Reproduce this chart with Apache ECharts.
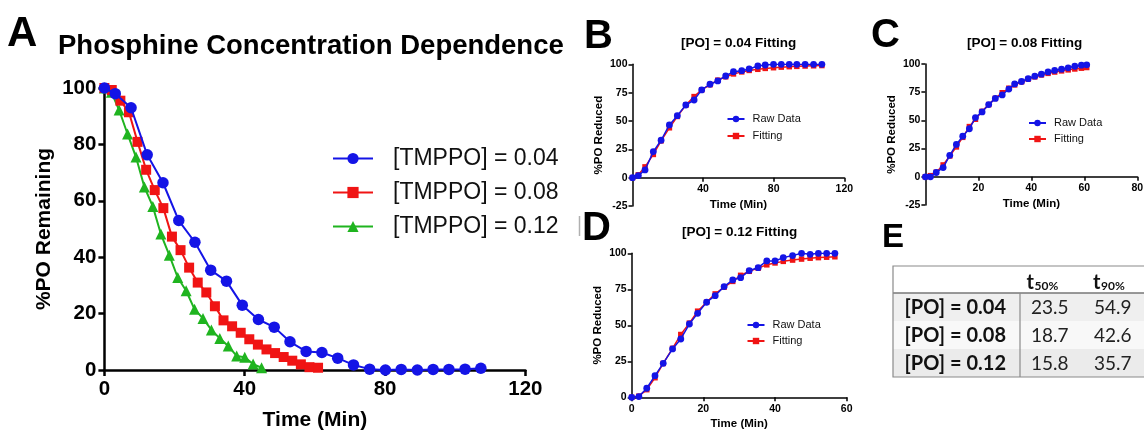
<!DOCTYPE html>
<html>
<head>
<meta charset="utf-8">
<script src="https://cdn.jsdelivr.net/npm/echarts@6/dist/echarts.min.js"></script>
<style>
  html, body { margin: 0; padding: 0; background: #fff; }
  #chart { width: 1144px; height: 438px; }
</style>
</head>
<body>
<div id="chart"></div>
<script>
// ---- Panel A: %PO remaining vs time for three TMPPO loadings ----
const timeA004 = [0, 3.1, 7.6, 12.2, 16.7, 21.2, 25.8, 30.3, 34.8, 39.3, 43.9, 48.4, 52.9, 57.5, 62.0, 66.5, 71.0, 75.6, 80.1, 84.6, 89.2, 93.7, 98.2, 102.8, 107.3];
const remainA004 = [100, 98, 93, 76.3, 66.4, 53, 45.3, 35.4, 31.5, 23.0, 17.9, 15.2, 10.0, 6.6, 6.2, 4.2, 1.8, 0.3, 0, 0.2, 0, 0.2, 0.2, 0.3, 0.6];

const timeA008 = [0, 2.1, 4.55, 7.0, 9.45, 11.9, 14.35, 16.8, 19.25, 21.7, 24.15, 26.6, 29.05, 31.5, 33.95, 36.4, 38.85, 41.3, 43.75, 46.2, 48.65, 51.1, 53.55, 56.0, 58.45, 60.9];
const remainA008 = [100, 99.3, 95.5, 91.4, 80.9, 71.0, 63.8, 57.4, 47.3, 42.5, 36.3, 31.0, 27.5, 22.6, 17.6, 15.5, 13.2, 10.9, 9.0, 7.3, 6.0, 4.6, 3.3, 2.0, 1.0, 0.8];

const timeA012 = [0, 2.0, 4.2, 6.6, 9.0, 11.4, 13.8, 16.1, 18.5, 20.9, 23.3, 25.7, 28.1, 30.5, 32.9, 35.3, 37.7, 40.0, 42.4, 44.8];
const remainA012 = [100, 98.5, 92.2, 83.7, 75.5, 64.9, 58.0, 48.2, 40.7, 32.8, 28.1, 21.5, 18.3, 14.2, 11.2, 8.5, 5.0, 4.5, 2.1, 0.8];

const legendA = ['[TMPPO] = 0.04', '[TMPPO] = 0.08', '[TMPPO] = 0.12'];

// ---- Panel B: [PO] = 0.04, raw vs fitted %PO reduced ----
const timeB = [0, 3.3, 7.1, 11.8, 16.2, 20.9, 25.4, 30.2, 34.9, 39.2, 43.9, 48.3, 52.8, 57.2, 61.9, 66.1, 71.0, 75.2, 79.9, 84.3, 88.8, 93.1, 97.8, 102.6, 107.3];
const rawB = [0, 1.8, 6.8, 23.0, 33.0, 46.5, 54.7, 64.1, 68.5, 77.4, 82.4, 85.3, 89.7, 93.5, 94.4, 95.9, 98.5, 99.4, 100, 100, 100, 100, 100, 100, 100];
const fitB = [0, 2.5, 9.5, 20.5, 32.5, 44.0, 54.0, 64.0, 71.5, 77.5, 82.0, 86.0, 89.0, 91.5, 93.3, 94.6, 95.6, 96.4, 97.0, 97.5, 97.9, 98.2, 98.5, 98.7, 98.9];

// ---- Panel C: [PO] = 0.08 ----
const timeC = [0, 1.9, 4.1, 6.7, 9.2, 11.7, 14.1, 16.6, 18.9, 21.4, 23.9, 26.4, 29.0, 31.5, 33.7, 36.3, 38.8, 41.3, 43.8, 46.3, 48.8, 51.4, 53.9, 56.4, 58.9, 60.9];
const rawC = [0, 0, 3.8, 8.2, 19.0, 28.7, 36.0, 42.6, 52.5, 57.5, 64.0, 69.5, 72.6, 77.8, 82.3, 84.5, 87.0, 89.2, 91.0, 93.0, 94.3, 95.4, 96.6, 98.0, 99.0, 99.3];
const fitC = [0, 1.0, 4.0, 10.5, 18.5, 26.5, 35.0, 44.5, 51.0, 58.0, 64.0, 69.5, 74.5, 78.5, 81.5, 84.2, 86.6, 88.6, 90.3, 91.7, 92.9, 93.9, 94.8, 95.6, 96.3, 96.9];

// ---- Panel D: [PO] = 0.12 ----
const timeD = [0, 2.0, 4.2, 6.5, 8.8, 11.4, 13.7, 16.1, 18.4, 20.9, 23.3, 25.8, 28.2, 30.4, 32.8, 35.3, 37.7, 40.0, 42.3, 44.9, 47.4, 49.8, 52.1, 54.4, 56.7];
const rawD = [0, 0.5, 6.3, 15.0, 23.6, 33.6, 40.5, 50.9, 58.3, 66.0, 70.6, 76.9, 81.5, 83.1, 88.0, 90.0, 94.7, 94.7, 97.0, 98.4, 100, 99.3, 100, 100, 100];
const fitD = [0, 0.8, 5.3, 13.6, 23.5, 34.0, 43.6, 51.5, 59.8, 66.0, 71.8, 76.5, 80.5, 84.7, 87.5, 89.7, 92.0, 93.3, 94.4, 95.3, 96.0, 96.6, 97.0, 97.3, 97.6];

// ---- Panel E: half-life table ----
const tableRowLabels = ['[PO] = 0.04', '[PO] = 0.08', '[PO] = 0.12'];
const t50 = [23.5, 18.7, 15.8];
const t90 = [54.9, 42.6, 35.7];

const FONT = '"Liberation Sans", Arial, Helvetica, sans-serif';
const TFONT = 'Lato, "Open Sans", sans-serif';
const BLUE = '#1414e6';
const RED = '#f01414';
const GREEN = '#1fb41f';

const zip = (xs, ys) => xs.map((x, i) => [x, ys[i]]);

// grid boxes (pixel layout of each plotting area)
const gridA = { left: 104.4, top: 88, width: 421, height: 282 };
const gridB = { left: 632.5, top: 64.3, width: 211.8, height: 141.7 };
const gridC = { left: 925.4, top: 64, width: 211.9, height: 141 };
const gridD = { left: 631.7, top: 253.3, width: 215, height: 144 };

// x axis of B/C sits on the y = 0 line (y range -25..100)
const zeroShift = g => -g.height * 25 / 125;

function xAxisOf(grid, max, interval, big, hideMin, offset) {
  const lw = big ? 2.5 : 1.5;
  return {
    gridIndex: grid, type: 'value', min: 0, max: max, interval: interval,
    position: 'bottom', offset: offset || 0,
    axisLine: { show: true, onZero: false, lineStyle: { color: '#000', width: lw } },
    axisTick: { show: true, length: big ? 6 : 4, lineStyle: { color: '#000', width: lw } },
    axisLabel: { color: '#000', fontFamily: FONT, fontWeight: 'bold', fontSize: big ? 20.5 : 10.5,
                 margin: big ? 9 : 6, showMinLabel: !hideMin },
    splitLine: { show: false },
    name: 'Time (Min)', nameLocation: 'middle', nameGap: big ? 40 : 21,
    nameTextStyle: { color: '#000', fontFamily: FONT, fontWeight: 'bold', fontSize: big ? 21 : 11.5 }
  };
}
function yAxisOf(grid, min, max, interval, big, name) {
  const lw = big ? 2.5 : 1.5;
  return {
    gridIndex: grid, type: 'value', min: min, max: max, interval: interval,
    axisLine: { show: true, onZero: false, lineStyle: { color: '#000', width: lw } },
    axisTick: { show: true, length: big ? 6 : 4, lineStyle: { color: '#000', width: lw } },
    axisLabel: { color: '#000', fontFamily: FONT, fontWeight: 'bold', fontSize: big ? 20.5 : 10.5, margin: big ? 8 : 5 },
    splitLine: { show: false },
    name: name, nameLocation: 'middle', nameGap: big ? 50 : 28,
    nameTextStyle: { color: '#000', fontFamily: FONT, fontWeight: 'bold', fontSize: big ? 21 : 11.5 }
  };
}
function lineSeries(name, grid, data, color, symbol, size, width, z) {
  return {
    type: 'line', name: name, xAxisIndex: grid, yAxisIndex: grid, data: data,
    symbol: symbol, symbolSize: size, showSymbol: true, z: z,
    itemStyle: { color: color, opacity: 1 },
    lineStyle: { color: color, width: width },
    emphasis: { disabled: true }, animation: false
  };
}
function smallLegend(left, top, gap) {
  return {
    left: left, top: top, padding: 0, orient: 'vertical', itemWidth: 17, itemHeight: 8, itemGap: gap,
    data: ['Raw Data', 'Fitting'], selectedMode: false,
    textStyle: { color: '#111', fontFamily: FONT, fontSize: 11, lineHeight: 12, padding: [0, 0, 0, 3] }
  };
}

// table built from graphic rects/lines/texts
function buildTable() {
  const x0 = 893, y0 = 266, w = 260, headH = 27, rowH = 28, colX = 1020;
  const fills = ['#efefef', '#f8f8f8', '#ebebeb'];
  const els = [];
  els.push({ type: 'rect', shape: { x: x0, y: y0, width: w, height: headH + 3 * rowH },
             style: { fill: '#fff' }, z: 1 });
  tableRowLabels.forEach((lab, i) => {
    const yy = y0 + headH + i * rowH;
    els.push({ type: 'rect', shape: { x: x0, y: yy, width: w, height: rowH }, style: { fill: fills[i] }, z: 2 });
    els.push({ type: 'text', x: 1006, y: yy + rowH / 2 + 1, z: 5,
               style: { text: lab, fill: '#111', font: 'bold 20px ' + TFONT, align: 'right', verticalAlign: 'middle' } });
    els.push({ type: 'text', x: 1031, y: yy + rowH / 2 + 1, z: 5,
               style: { text: t50[i].toFixed(1), fill: '#222', font: '19px ' + TFONT, align: 'left', verticalAlign: 'middle' } });
    els.push({ type: 'text', x: 1094, y: yy + rowH / 2 + 1, z: 5,
               style: { text: t90[i].toFixed(1), fill: '#222', font: '19px ' + TFONT, align: 'left', verticalAlign: 'middle' } });
  });
  els.push({ type: 'line', shape: { x1: x0, y1: y0 + headH, x2: x0 + w, y2: y0 + headH },
             style: { stroke: '#777', lineWidth: 1.6 }, z: 4 });
  els.push({ type: 'line', shape: { x1: colX, y1: y0 + headH, x2: colX, y2: y0 + headH + 3 * rowH },
             style: { stroke: '#8a8a8a', lineWidth: 1.2 }, z: 4 });
  els.push({ type: 'rect', shape: { x: x0, y: y0, width: w, height: headH + 3 * rowH },
             style: { fill: 'none', stroke: '#8a8a8a', lineWidth: 1.2 }, z: 4 });
  // column headers: t with a percent subscript
  [['50%', 1026.5], ['90%', 1093]].forEach(([sub, hx]) => {
    els.push({ type: 'text', x: hx, y: y0 + 16.5, z: 5,
               style: { text: 't', fill: '#111', font: 'bold 20px ' + TFONT, align: 'left', verticalAlign: 'middle' } });
    els.push({ type: 'text', x: hx + 8, y: y0 + 20.5, z: 5,
               style: { text: sub, fill: '#111', font: 'bold 12px ' + TFONT, align: 'left', verticalAlign: 'middle' } });
  });
  // thin grey edge mark between panels A and B
  els.push({ type: 'line', shape: { x1: 579.5, y1: 216, x2: 579.5, y2: 236 },
             style: { stroke: '#b0b0b0', lineWidth: 1.5 }, z: 4 });
  return els;
}

const letterStyle = { color: '#000', fontFamily: FONT, fontWeight: 'bold', fontSize: 40 };
const subTitleStyle = { color: '#000', fontFamily: FONT, fontWeight: 'bold', fontSize: 13.5 };

const option = {
  backgroundColor: '#fff',
  animation: false,
  title: [
    { text: 'A', left: 7, top: 13, textStyle: Object.assign({}, letterStyle, { fontSize: 42 }), padding: 0 },
    { text: 'Phosphine Concentration Dependence', left: 58, top: 32, padding: 0,
      textStyle: { color: '#000', fontFamily: FONT, fontWeight: 'bold', fontSize: 27.5 } },
    { text: 'B', left: 584, top: 17, textStyle: letterStyle, padding: 0 },
    { text: '[PO] = 0.04 Fitting', left: 681, top: 36, textStyle: subTitleStyle, padding: 0 },
    { text: 'C', left: 871, top: 16, textStyle: letterStyle, padding: 0 },
    { text: '[PO] = 0.08 Fitting', left: 967, top: 36, textStyle: subTitleStyle, padding: 0 },
    { text: 'D', left: 582, top: 209, textStyle: letterStyle, padding: 0 },
    { text: '[PO] = 0.12 Fitting', left: 682, top: 225, textStyle: subTitleStyle, padding: 0 },
    { text: 'E', left: 882, top: 221, textStyle: Object.assign({}, letterStyle, { fontSize: 33 }), padding: 0 }
  ],
  grid: [gridA, gridB, gridC, gridD].map(g => Object.assign({ outerBoundsMode: 'none' }, g)),
  xAxis: [
    xAxisOf(0, 120, 40, true, false, 0),
    xAxisOf(1, 120, 40, false, true, zeroShift(gridB)),
    xAxisOf(2, 80, 20, false, true, zeroShift(gridC)),
    xAxisOf(3, 60, 20, false, false, 0)
  ],
  yAxis: [
    yAxisOf(0, 0, 100, 20, true, '%PO Remaining'),
    yAxisOf(1, -25, 100, 25, false, '%PO Reduced'),
    yAxisOf(2, -25, 100, 25, false, '%PO Reduced'),
    yAxisOf(3, 0, 100, 25, false, '%PO Reduced')
  ],
  legend: [
    { left: 332, top: 147, padding: 0, orient: 'vertical', itemWidth: 40, itemHeight: 14, itemGap: 11,
      data: legendA, selectedMode: false,
      textStyle: { color: '#111', fontFamily: FONT, fontSize: 23, lineHeight: 23, padding: [0, 0, 0, 15] } },
    smallLegend(726.5, 113, 5),
    smallLegend(1028, 117, 4),
    smallLegend(746.5, 319, 4)
  ],
  series: [
    lineSeries(legendA[2], 0, zip(timeA012, remainA012), GREEN, 'triangle', 11, 2, 2),
    lineSeries(legendA[1], 0, zip(timeA008, remainA008), RED, 'rect', 10, 2, 3),
    lineSeries(legendA[0], 0, zip(timeA004, remainA004), BLUE, 'circle', 11.5, 2, 4),

    lineSeries('Fitting', 1, zip(timeB, fitB), RED, 'rect', 5.5, 1.5, 2),
    lineSeries('Raw Data', 1, zip(timeB, rawB), BLUE, 'circle', 6.8, 1.5, 3),

    lineSeries('Fitting', 2, zip(timeC, fitC), RED, 'rect', 5.5, 1.5, 2),
    lineSeries('Raw Data', 2, zip(timeC, rawC), BLUE, 'circle', 6.8, 1.5, 3),

    lineSeries('Fitting', 3, zip(timeD, fitD), RED, 'rect', 5.5, 1.5, 2),
    lineSeries('Raw Data', 3, zip(timeD, rawD), BLUE, 'circle', 6.8, 1.5, 3)
  ],
  graphic: buildTable()
};

const chart = echarts.init(document.getElementById('chart'), null, { renderer: 'canvas' });
chart.setOption(option);
</script>
</body>
</html>
